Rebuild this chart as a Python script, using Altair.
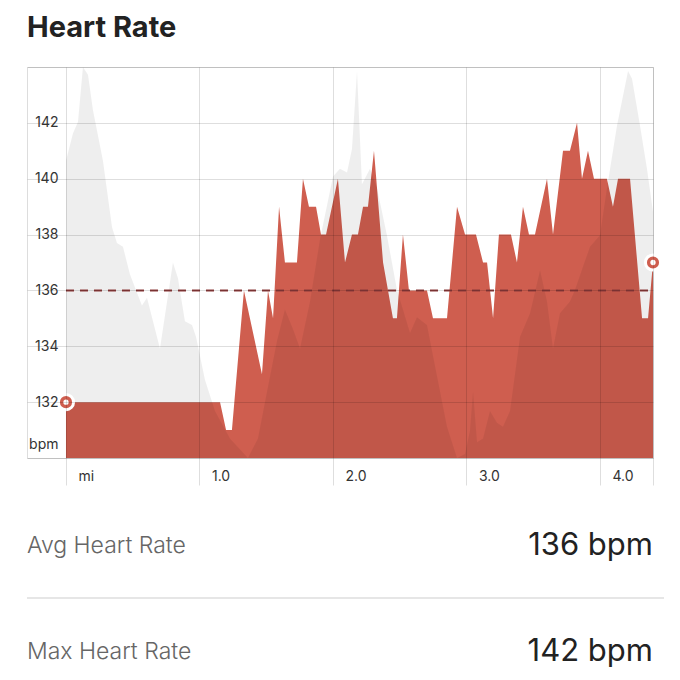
import altair as alt
import pandas as pd

# ---- Heart-rate samples (distance in miles, bpm) ----
miles = [0, 1.154, 1.199, 1.243, 1.333, 1.468, 1.513, 1.551, 1.596, 1.640, 1.730, 1.775,
         1.820, 1.873, 1.910, 1.948, 2.037, 2.090, 2.142, 2.187, 2.225, 2.262, 2.307, 2.375,
         2.449, 2.479, 2.524, 2.569, 2.704, 2.749, 2.854, 2.929, 2.989, 3.071, 3.124, 3.154,
         3.199, 3.243, 3.333, 3.378, 3.423, 3.468, 3.513, 3.603, 3.648, 3.723, 3.775, 3.828,
         3.865, 3.910, 3.955, 4.052, 4.097, 4.135, 4.225, 4.315, 4.360, 4.397]
hr = [132, 132, 131, 131, 136, 133, 136, 135, 139, 137, 137, 140,
      139, 139, 138, 138, 140, 137, 138, 138, 139, 139, 141, 137,
      135, 135, 138, 136, 136, 135, 135, 139, 138, 138, 137, 137,
      135, 138, 138, 137, 139, 138, 138, 140, 138, 141, 141, 142,
      140, 141, 140, 140, 139, 140, 140, 135, 135, 137]

# ---- Elevation profile (relative, 0-100) ----
elev_miles = [0, 0.052, 0.090, 0.127, 0.165, 0.202, 0.277, 0.345, 0.382, 0.427, 0.479, 0.569,
              0.607, 0.704, 0.801, 0.839, 0.891, 0.944, 0.974, 1.041, 1.116, 1.228, 1.363, 1.438,
              1.506, 1.581, 1.640, 1.700, 1.753, 1.828, 1.903, 2.000, 2.052, 2.105, 2.142, 2.180,
              2.217, 2.277, 2.330, 2.404, 2.479, 2.524, 2.577, 2.629, 2.704, 2.779, 2.854, 2.929,
              2.989, 3.026, 3.049, 3.079, 3.124, 3.176, 3.228, 3.273, 3.326, 3.401, 3.476, 3.551,
              3.603, 3.648, 3.700, 3.775, 3.813, 3.873, 3.925, 4.000, 4.052, 4.127, 4.210, 4.240,
              4.300, 4.352, 4.397]
elev = [76, 83, 86, 100, 98, 89, 76, 59, 55, 54, 47, 39,
        41, 28, 50, 46, 35, 34, 31, 20, 12, 5, 0, 5,
        17, 30, 38, 33, 28, 40, 56, 72, 74, 73, 79, 99,
        70, 74, 69, 57, 43, 38, 32, 36, 34, 21, 8, 0,
        1, 7, 17, 4, 5, 12, 9, 8, 12, 31, 37, 48,
        40, 28, 37, 40, 43, 49, 54, 57, 69, 85, 99, 97,
        85, 74, 63]

avg_hr = 136
title_text = "Heart Rate"
stat_labels = ["Avg Heart Rate", "Max Heart Rate"]
stat_values = ["136 bpm", "142 bpm"]

x_ticks = [0, 1, 2, 3, 4, 4.397]
x_tick_labels = ["mi", "1.0", "2.0", "3.0", "4.0", ""]
y_ticks = [130, 132, 134, 136, 138, 140, 142, 144]

# ---- styling ----
RED = "#cf5e4f"
GRID = "rgba(0,0,0,0.13)"
FONT = "Inter"
W, H = 626, 391
X_DOMAIN = [-0.292, 4.397]
Y_DOMAIN = [130, 144]

hr_df = pd.DataFrame({"mile": miles, "bpm": hr})
el_df = pd.DataFrame({"mile": elev_miles, "elev": elev})
ends_df = hr_df.iloc[[0, len(hr_df) - 1]].reset_index(drop=True)
avg_df = pd.DataFrame({"start": [miles[0]], "end": [miles[-1]], "bpm": [avg_hr]})

x_expr = "".join(f"datum.value == {v} ? '{l}' : " for v, l in zip(x_ticks, x_tick_labels)) + "''"

x_axis = alt.Axis(
    values=x_ticks, labelExpr=x_expr, title=None, grid=True, gridColor=GRID, gridWidth=1,
    domain=False, ticks=True, tickSize=27, tickColor=GRID, tickWidth=1,
    labelAlign="left", labelBaseline="middle", labelPadding=-9, labelOffset=12,
    labelFont=FONT, labelFontSize=14, labelColor="#333", labelFlush=False,
    labelOverlap=False, zindex=1,
)
y_axis = alt.Axis(
    values=y_ticks,
    labelExpr="datum.value == 130 ? 'bpm' : datum.value == 144 ? '' : datum.label",
    title=None, grid=True, gridColor=GRID, gridWidth=1, domain=False, ticks=False,
    tickSize=0, labelPadding=-31, labelAlign="right",
    labelOffset={"condition": {"test": "datum.value == 130", "value": -14}, "value": 0},
    labelFont=FONT, labelFontSize=14, labelColor="#333", labelFlush=False,
    labelOverlap=False, zindex=1,
)

xs = alt.Scale(domain=X_DOMAIN, nice=False, zero=False)
ys = alt.Scale(domain=Y_DOMAIN, nice=False, zero=False)

X = alt.X("mile:Q", scale=xs, axis=x_axis)
Y_hidden = alt.Y("bpm:Q", scale=ys, axis=None)

hr_area = alt.Chart(hr_df).mark_area(color=RED, opacity=1, interpolate="linear").encode(
    x=X,
    y=alt.Y("bpm:Q", scale=ys, axis=y_axis),
    y2=alt.Y2Datum(130),
)

elev_area = alt.Chart(el_df).mark_area(color="black", fillOpacity=0.065, interpolate="linear").encode(
    x=X,
    y=alt.Y("elev:Q", scale=alt.Scale(domain=[0, 100], nice=False, zero=True), axis=None),
)

avg_rule = alt.Chart(avg_df).mark_rule(color="#8b3a3a", strokeWidth=2, strokeDash=[8, 6]).encode(
    x=alt.X("start:Q", scale=xs, axis=x_axis),
    x2="end:Q",
    y=Y_hidden,
)

end_outer = alt.Chart(ends_df).mark_circle(size=230, fill=RED, stroke="white",
                                           strokeWidth=3, opacity=1).encode(x=X, y=Y_hidden)
end_inner = alt.Chart(ends_df).mark_circle(size=28, color="white", opacity=1).encode(x=X, y=Y_hidden)

layers = [hr_area, elev_area, avg_rule, end_outer, end_inner]

# ---- title and summary rows ----
layers.append(alt.Chart(pd.DataFrame({"t": [title_text]})).mark_text(
    align="left", baseline="alphabetic", font=FONT, fontSize=29, fontWeight=700,
    color="#222").encode(text="t:N", x=alt.value(0), y=alt.value(-30)))

row_y = [479, 585]
for lab, val, yy in zip(stat_labels, stat_values, row_y):
    layers.append(alt.Chart(pd.DataFrame({"t": [lab]})).mark_text(
        align="left", baseline="middle", font=FONT, fontSize=23, color="#666",
        fontWeight=300).encode(text="t:N", x=alt.value(0), y=alt.value(yy)))
    layers.append(alt.Chart(pd.DataFrame({"t": [val]})).mark_text(
        align="right", baseline="middle", font=FONT, fontSize=31, color="#222",
        fontWeight=400).encode(text="t:N", x=alt.value(W), y=alt.value(yy)))

layers.append(alt.Chart(pd.DataFrame({"a": [0]})).mark_rule(color="#e6e6e6", strokeWidth=2).encode(
    x=alt.value(0), x2=alt.value(W + 30), y=alt.value(531)))

chart = alt.layer(*layers).resolve_scale(y="independent").properties(
    width=W, height=H,
    autosize=alt.AutoSizeParams(type="none"),
    padding={"left": 19, "top": 59, "right": 11, "bottom": 214},
).configure_view(stroke=None).configure(background="white")

chart.save("out.html", embed_options={"renderer": "svg", "actions": False})
